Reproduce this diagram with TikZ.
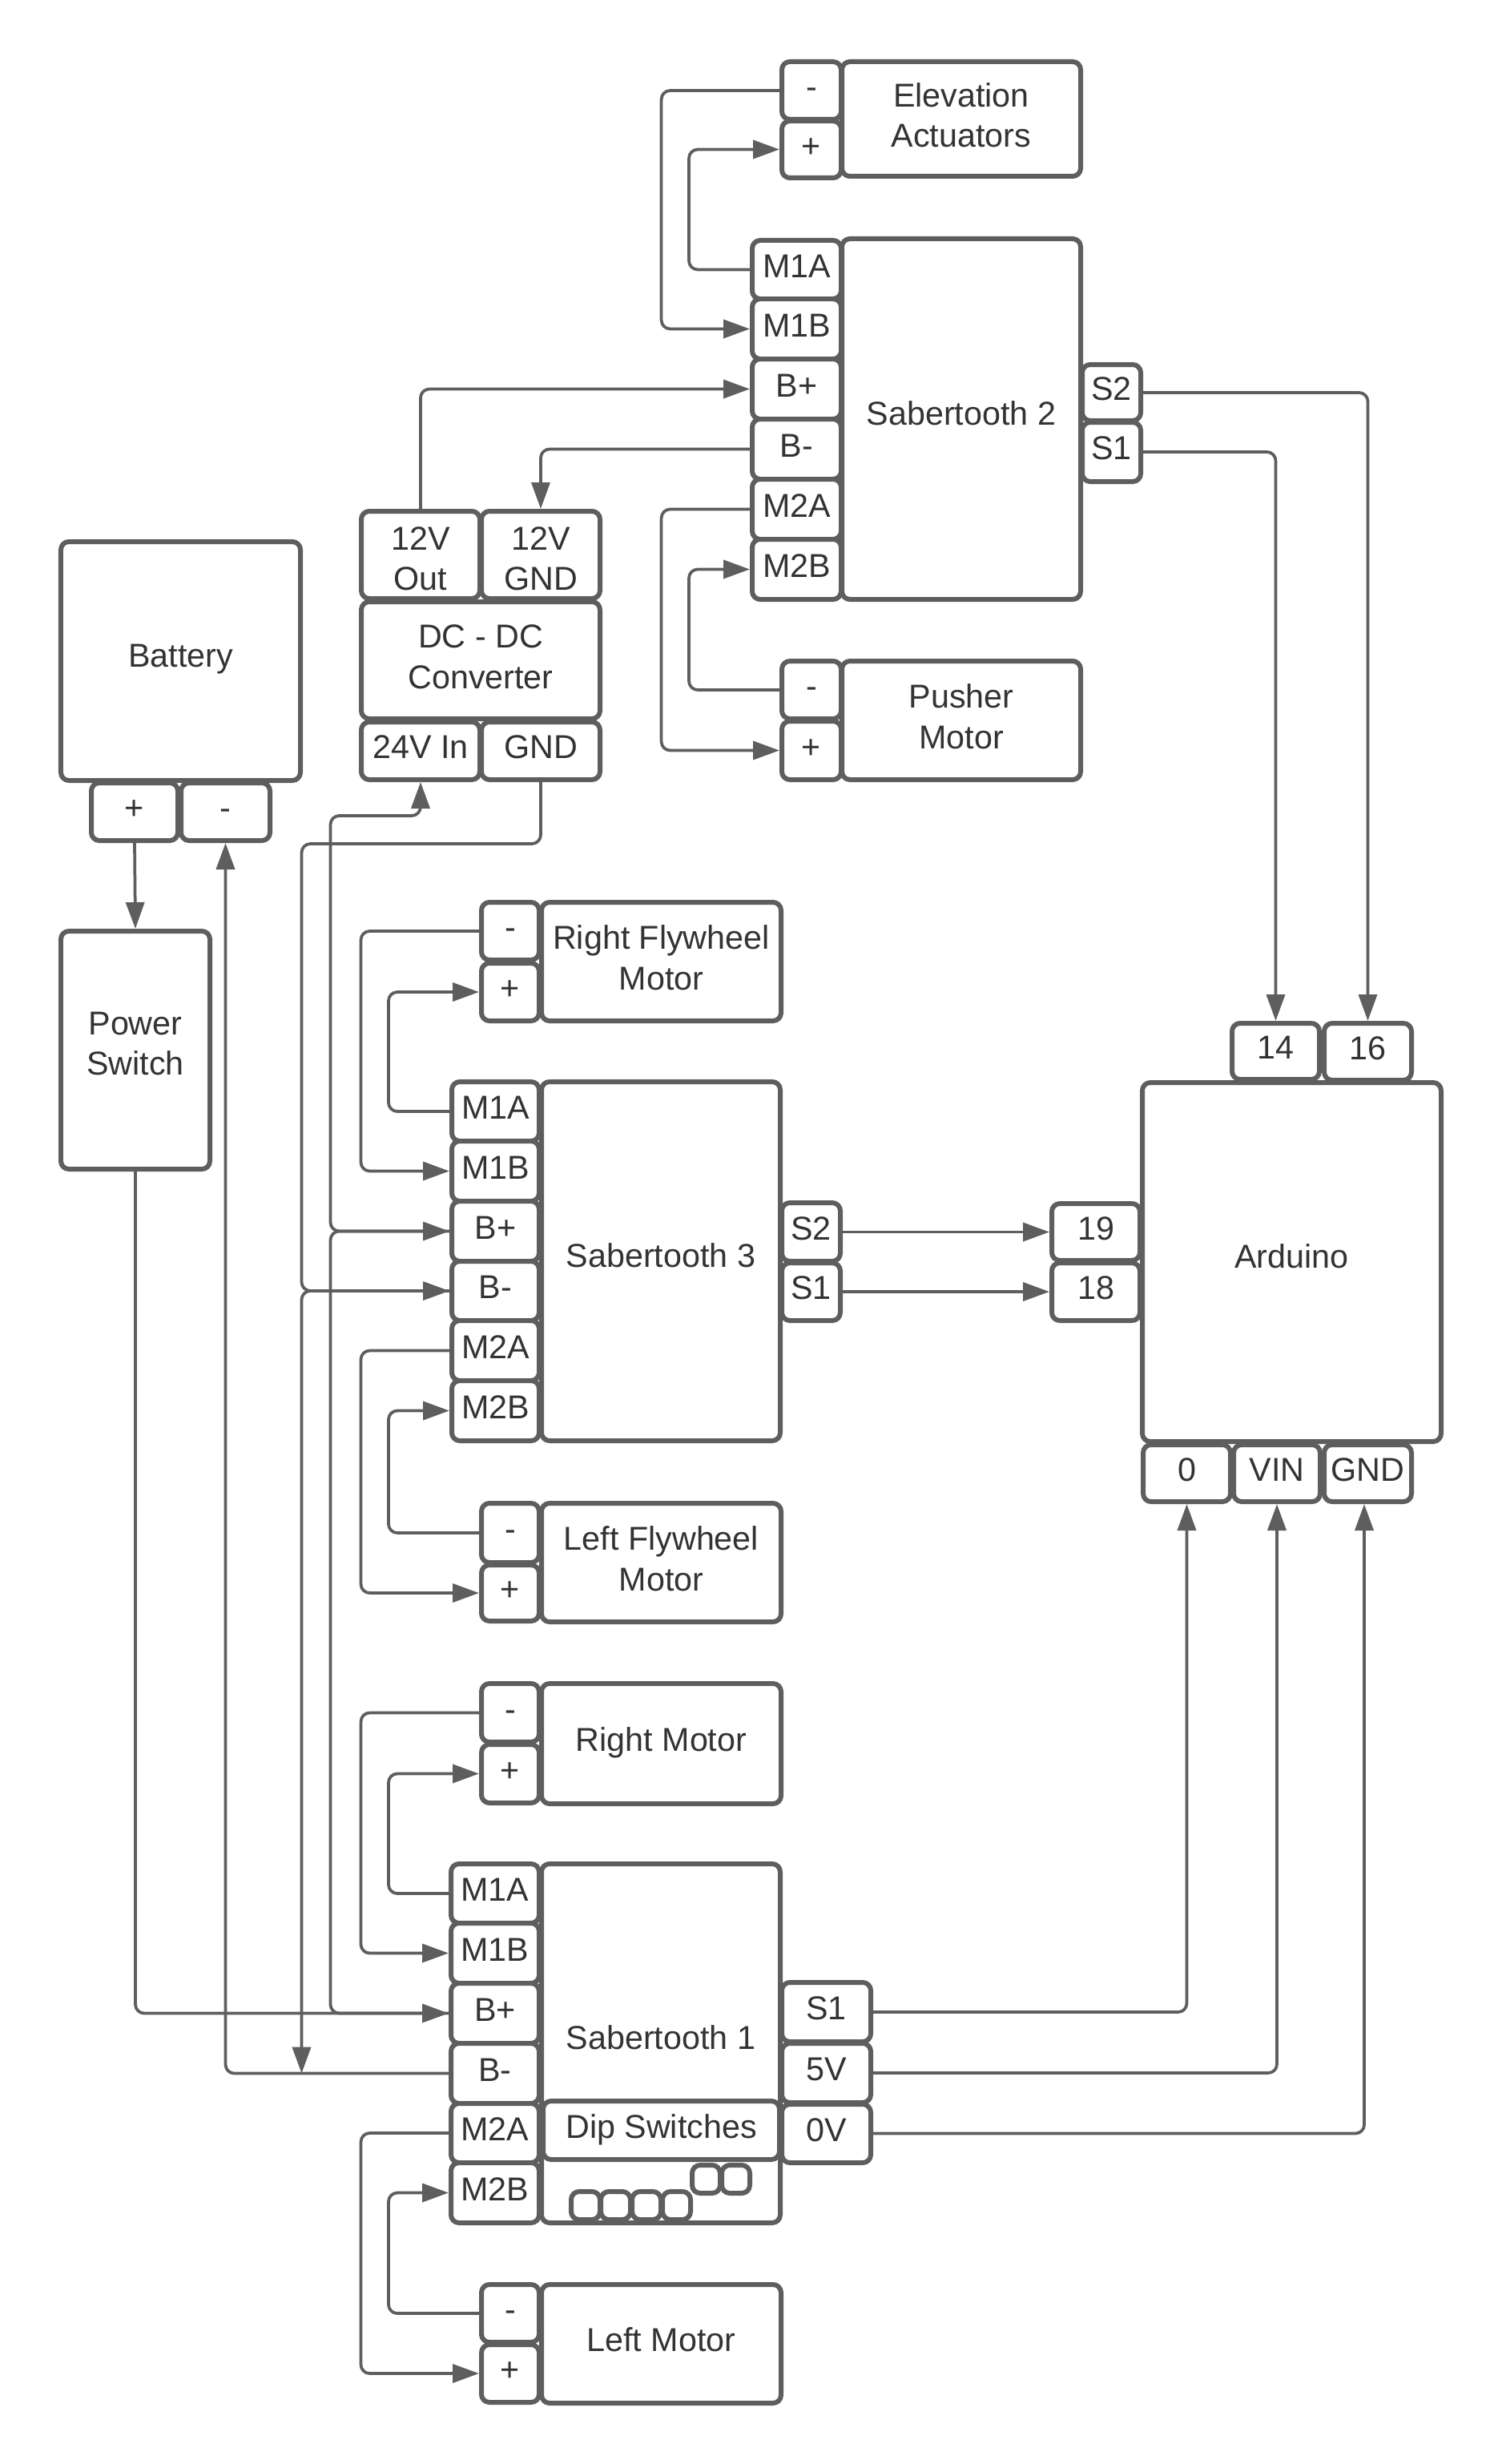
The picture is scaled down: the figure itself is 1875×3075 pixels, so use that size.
\documentclass[tikz,border=0pt]{standalone}
\usepackage{fontspec}
\setmainfont{Liberation Sans}
\usetikzlibrary{arrows.meta}
\definecolor{ln}{HTML}{5E5E5E}
\definecolor{tx}{HTML}{333333}
\newcommand{\sx}{\rule[-8.5pt]{0pt}{28.2pt}}
\newcommand{\blk}[6]{%
  \pgfmathsetmacro\bw{(#4-#2)*0.02}%
  \pgfmathsetmacro\bh{(#5-#3)*0.02}%
  \node[blk,minimum width=\bw cm,minimum height=\bh cm] (#1) at ({(#2+#4)/2},{(#3+#5)/2}) {#6};}
\newcommand{\one}[1]{\sx #1}
\newcommand{\oneup}[1]{\rule[-10.8pt]{0pt}{30.5pt}#1}
\newcommand{\two}[2]{\sx #1\\\sx #2}
\newcommand{\twolow}[2]{\rule[-8.5pt]{0pt}{30.5pt}#1\\\rule{0pt}{19.7pt}#2}
\newcommand{\twoup}[2]{\sx #1\\\rule[-13.1pt]{0pt}{32.8pt}#2}
\tikzset{
  blk/.style={draw=ln,line width=0.12cm,fill=white,rounded corners=0.2cm,inner sep=0pt,
    align=center,text=tx,font=\fontsize{23.5}{28.7}\selectfont},
  conn/.style={draw=ln,line width=0.075cm,rounded corners=0.22cm,line join=round},
  arr/.style={conn,-{Triangle[length=0.66cm,width=0.46cm]}},
}
\begin{document}
\begin{tikzpicture}[x=0.02cm,y=-0.02cm]
\useasboundingbox (0,0) rectangle (1875,3075);
\fill[white] (0,0) rectangle (1875,3075);
% Elevation actuators
\blk{elev}{1051}{77}{1349}{220}{\two{Elevation}{Actuators}}
\blk{emin}{976}{77}{1050}{149}{\one{-}}
\blk{eplus}{976}{151}{1050}{222}{\one{+}}
% Sabertooth 2
\blk{stb}{1051}{298}{1349}{748}{\oneup{Sabertooth 2}}
\blk{bma}{939}{300}{1050}{373}{\one{M1A}}
\blk{bmb}{939}{373}{1050}{448}{\one{M1B}}
\blk{bbp}{939}{448}{1050}{523}{\one{B+}}
\blk{bbm}{939}{523}{1050}{598}{\one{B-}}
\blk{bna}{939}{598}{1050}{673}{\one{M2A}}
\blk{bnb}{939}{673}{1050}{748}{\one{M2B}}
\blk{bsb}{1351}{455}{1424}{525}{\one{S2}}
\blk{bsa}{1351}{527}{1424}{601}{\one{S1}}
% Pusher
\blk{push}{1051}{825}{1349}{973}{\two{Pusher}{Motor}}
\blk{pmin}{976}{825}{1050}{897}{\one{-}}
\blk{pplus}{976}{900}{1050}{973}{\one{+}}
% DC-DC
\blk{dco}{451}{638}{599}{747}{\twolow{12V}{Out}}
\blk{dcg}{601}{638}{749}{747}{\twolow{12V}{GND}}
\blk{dc}{451}{751}{749}{897}{\two{DC - DC}{Converter}}
\blk{dci}{451}{901}{599}{973}{\one{24V In}}
\blk{dcn}{601}{901}{749}{973}{\one{GND}}
% Battery and switch
\blk{bat}{76}{676}{375}{974}{\oneup{Battery}}
\blk{batp}{114}{977}{222}{1049}{\one{+}}
\blk{batm}{226}{977}{337}{1049}{\one{-}}
\blk{pow}{76}{1162}{262}{1459}{\twoup{Power}{Switch}}
% Right flywheel
\blk{rf}{676}{1126}{975}{1274}{\two{Right Flywheel}{Motor}}
\blk{rfmin}{601}{1126}{673}{1198}{\one{-}}
\blk{rfplus}{601}{1202}{673}{1274}{\one{+}}
% Sabertooth 3
\blk{stc}{676}{1350}{974}{1798}{\oneup{Sabertooth 3}}
\blk{cma}{564}{1350}{673}{1424}{\one{M1A}}
\blk{cmb}{564}{1424}{673}{1499}{\one{M1B}}
\blk{cbp}{564}{1499}{673}{1574}{\one{B+}}
\blk{cbm}{564}{1574}{673}{1648}{\one{B-}}
\blk{cna}{564}{1648}{673}{1723}{\one{M2A}}
\blk{cnb}{564}{1723}{673}{1798}{\one{M2B}}
\blk{csb}{976}{1501}{1049}{1574}{\one{S2}}
\blk{csa}{976}{1576}{1049}{1648}{\one{S1}}
% Arduino
\blk{ard}{1426}{1351}{1799}{1799}{\oneup{Arduino}}
\blk{pn}{1313}{1502}{1423}{1573}{\one{19}}
\blk{pe}{1313}{1576}{1423}{1648}{\one{18}}
\blk{pf}{1538}{1277}{1647}{1347}{\one{14}}
\blk{ps}{1653}{1277}{1762}{1348}{\one{16}}
\blk{pz}{1427}{1803}{1536}{1874}{\one{0}}
\blk{pv}{1540}{1803}{1648}{1874}{\one{VIN}}
\blk{pg}{1653}{1803}{1762}{1874}{\one{GND}}
% Left flywheel
\blk{lf}{676}{1876}{975}{2024}{\two{Left Flywheel}{Motor}}
\blk{lfmin}{601}{1876}{673}{1950}{\one{-}}
\blk{lfplus}{601}{1953}{673}{2023}{\one{+}}
% Right motor
\blk{rm}{676}{2101}{975}{2251}{\one{Right Motor}}
\blk{rmmin}{601}{2101}{673}{2174}{\one{-}}
\blk{rmplus}{601}{2177}{673}{2250}{\one{+}}
% Sabertooth 1
\blk{sta}{676}{2326}{974}{2774}{\oneup{Sabertooth 1}}
\blk{ama}{563}{2326}{673}{2400}{\one{M1A}}
\blk{amb}{563}{2400}{673}{2475}{\one{M1B}}
\blk{abp}{563}{2475}{673}{2550}{\one{B+}}
\blk{abm}{563}{2550}{673}{2625}{\one{B-}}
\blk{ana}{563}{2625}{673}{2699}{\one{M2A}}
\blk{anb}{563}{2699}{673}{2774}{\one{M2B}}
\blk{asa}{976}{2474}{1087}{2548}{\one{S1}}
\blk{asv}{976}{2550}{1087}{2624}{\one{5V}}
\blk{asz}{976}{2626}{1087}{2699}{\one{0V}}
\blk{dip}{678}{2622}{973}{2695}{\one{Dip Switches}}
\blk{da}{713}{2735}{749}{2770}{}
\blk{db}{750}{2735}{787}{2770}{}
\blk{dd}{789}{2735}{825}{2770}{}
\blk{de}{827}{2735}{862}{2770}{}
\blk{df}{864}{2702}{899}{2737}{}
\blk{dg}{901}{2702}{936}{2737}{}
% Left motor
\blk{lm}{676}{2851}{975}{2999}{\one{Left Motor}}
\blk{lmmin}{601}{2851}{673}{2923}{\one{-}}
\blk{lmplus}{601}{2926}{673}{2998}{\one{+}}
% routing channels
\coordinate (cha) at (825.6,0);
\coordinate (chb) at (860,0);
\coordinate (chc) at (450.5,0);
\coordinate (chd) at (485,0);
\coordinate (rail24) at (412.5,1018);
\coordinate (railg) at (376.5,1053);
\coordinate (gndpin) at (1703,1877);
% Sabertooth 2 wiring
\draw[arr] (emin.west) -- (emin.west -| cha) -- (bmb.west -| cha) -- (bmb.west);
\draw[arr] (bma.west) -- (bma.west -| chb) -- (eplus.west -| chb) -- (eplus.west);
\draw[arr] (dco.north) -- (dco.north |- bbp.west) -- (bbp.west);
\draw[arr] (bbm.west) -- (bbm.west -| dcg.north) -- (dcg.north);
\draw[arr] (bna.west) -- (bna.west -| cha) -- (pplus.west -| cha) -- (pplus.west);
\draw[arr] (pmin.west) -- (pmin.west -| chb) -- (bnb.west -| chb) -- (bnb.west);
\draw[arr] (bsb.east) -- (bsb.east -| ps.north) -- (ps.north);
\draw[arr] (bsa.east) -- (bsa.east -| pf.north) -- (pf.north);
% power
\draw[arr] (batp.south) -- (pow.north);
\draw[arr] (pow.south) -- (pow.south |- abp.west) -- (abp.west);
\draw[arr] (abm.west) -- (abm.west -| batm.south) -- (batm.south);
\draw[arr] (dcn.south) -- (dcn.south |- railg) -- (railg) -- (railg |- cbm.west) -- (cbm.west);
\draw[arr] (cbm.west) -- (cbm.west -| railg) -- (abm.west -| railg);
\draw[arr] (cbp.west) -- (cbp.west -| rail24) -- (rail24) -- (rail24 -| dci.south) -- (dci.south);
\draw[arr] (abp.west) -- (abp.west -| rail24) -- (cbp.west -| rail24) -- (cbp.west);
% Sabertooth 3 wiring
\draw[arr] (rfmin.west) -- (rfmin.west -| chc) -- (cmb.west -| chc) -- (cmb.west);
\draw[arr] (cma.west) -- (cma.west -| chd) -- (rfplus.west -| chd) -- (rfplus.west);
\draw[arr] (cna.west) -- (cna.west -| chc) -- (lfplus.west -| chc) -- (lfplus.west);
\draw[arr] (lfmin.west) -- (lfmin.west -| chd) -- (cnb.west -| chd) -- (cnb.west);
\draw[arr] (csb.east) -- (pn.west);
\draw[arr] (csa.east) -- (pe.west);
% Sabertooth 1 wiring
\draw[arr] (rmmin.west) -- (rmmin.west -| chc) -- (amb.west -| chc) -- (amb.west);
\draw[arr] (ama.west) -- (ama.west -| chd) -- (rmplus.west -| chd) -- (rmplus.west);
\draw[arr] (ana.west) -- (ana.west -| chc) -- (lmplus.west -| chc) -- (lmplus.west);
\draw[arr] (lmmin.west) -- (lmmin.west -| chd) -- (anb.west -| chd) -- (anb.west);
\draw[arr] (asa.east) -- (asa.east -| pz.south) -- (pz.south);
\draw[arr] (asv.east) -- (asv.east -| pv.south) -- (pv.south);
\draw[arr] (asz.east) -- (asz.east -| gndpin) -- (gndpin);
\end{tikzpicture}
\end{document}
